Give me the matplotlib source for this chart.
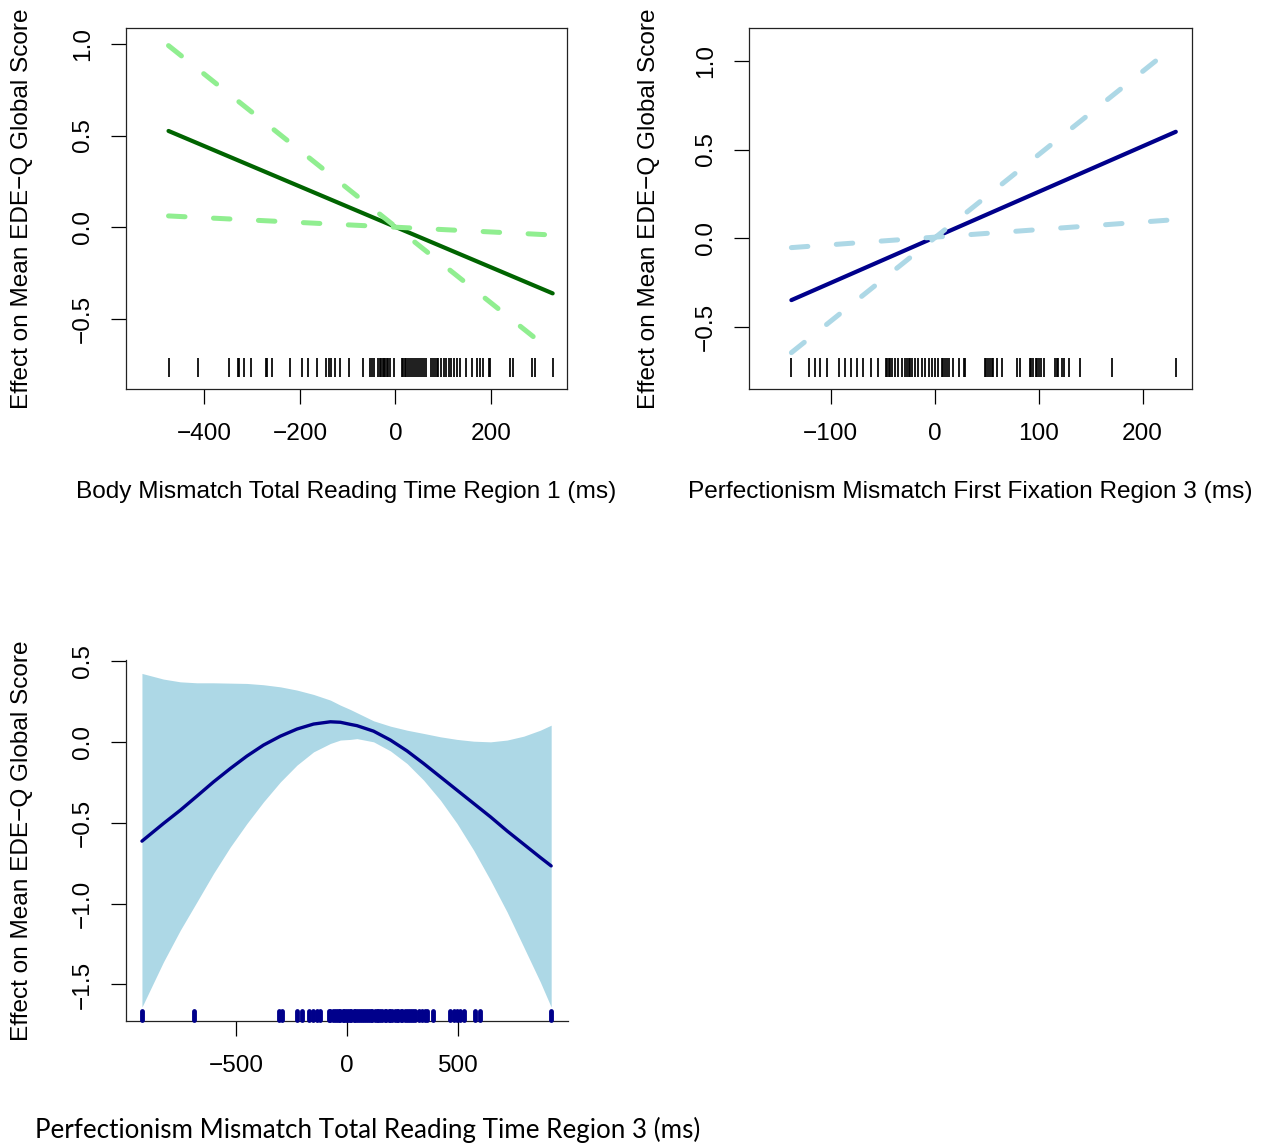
import numpy as np
import matplotlib
matplotlib.use("Agg")
import matplotlib.pyplot as plt

# ---------------- data ----------------
# Panel 1: Body Mismatch Total Reading Time Region 1
p1_x = [-475, 329]
p1_fit = [0.525, -0.360]
p1_ci_a = [0.990, -0.680]
p1_ci_b = [0.062, -0.042]
p1_rug = [-474, -414, -348, -330, -327, -316, -303, -271, -268, -259, -220, -195,
          -184, -165, -145, -140, -135, -126, -116, -98, -67, -53, -49, -45, -36,
          -33, -30, -27, -24, -21, -18, -15, -12, -3, 13, 16, 19, 22, 27, 31, 35,
          39, 43, 47, 51, 55, 59, 64, 74, 78, 82, 87, 90, 95, 101, 106, 111, 116,
          122, 129, 136, 147, 160, 170, 177, 183, 195, 198, 240, 247, 286, 293, 329]
p1_xticks = [-400, -200, 0, 200]
p1_yticks = [-0.5, 0.0, 0.5, 1.0]

# Panel 2: Perfectionism Mismatch First Fixation Region 3
p2_x = [-138, 232]
p2_fit = [-0.349, 0.600]
p2_ci_a = [-0.645, 1.090]
p2_ci_b = [-0.053, 0.105]
p2_rug = [-138, -121, -115, -110, -104, -92, -86, -81, -75, -69, -61, -55, -47,
          -46, -44, -43, -41, -38, -35, -32, -29, -27, -25, -24, -22, -19, -16,
          -12, -9, -6, -3, 0, 3, 7, 8, 10, 12, 14, 18, 23, 28, 29, 48, 49, 51, 53,
          55, 56, 60, 65, 79, 82, 92, 93, 95, 97, 98, 100, 102, 105, 116, 118,
          119, 122, 124, 129, 140, 171, 232]
p2_xticks = [-100, 0, 100, 200]
p2_yticks = [-0.5, 0.0, 0.5, 1.0]

# Panel 3: Perfectionism Mismatch Total Reading Time Region 3 (smooth term)
p3_x = [-926, -829, -753, -678, -603, -527, -452, -377, -301, -226, -151, -75, -30,
        15, 45, 120, 196, 271, 346, 422, 497, 572, 648, 723, 798, 873, 922]
p3_fit = [-0.614, -0.505, -0.423, -0.336, -0.248, -0.165, -0.088, -0.020, 0.035,
          0.079, 0.110, 0.124, 0.121, 0.108, 0.100, 0.066, 0.011, -0.056, -0.134,
          -0.217, -0.299, -0.381, -0.464, -0.551, -0.633, -0.715, -0.767]
p3_upper = [0.423, 0.388, 0.371, 0.365, 0.365, 0.363, 0.361, 0.353, 0.340, 0.320,
            0.293, 0.258, 0.227, 0.200, 0.180, 0.130, 0.097, 0.072, 0.052, 0.031,
            0.015, 0.004, 0.000, 0.011, 0.035, 0.072, 0.103]
p3_lower = [-1.640, -1.361, -1.165, -0.990, -0.814, -0.650, -0.505, -0.371, -0.248,
            -0.144, -0.062, -0.010, 0.011, 0.015, 0.020, 0.000, -0.056, -0.134,
            -0.237, -0.361, -0.505, -0.670, -0.856, -1.052, -1.268, -1.485, -1.640]
p3_rug = [-928, -690, -306, -292, -225, -205, -170, -155, -137, -121,
          -83, -75, -65, -55, -45, -38, -30, -20, -12, -5, 5, 12, 20, 30, 38, 45,
          55, 63, 72, 80, 90, 98, 108, 115, 125, 135, 142, 150, 160, 170, 178, 188,
          196, 205, 215, 225, 232, 242, 250, 260, 270, 280, 290, 298, 308,
          325, 337, 352, 360, 390, 464, 482, 497, 512, 527, 576, 601, 923]
p3_xticks = [-500, 0, 500]
p3_yticks = [-1.5, -1.0, -0.5, 0.0, 0.5]

ylab = "Effect on Mean EDE\u2212Q Global Score"
xlab1 = "Body Mismatch Total Reading Time Region 1 (ms)"
xlab2 = "Perfectionism Mismatch First Fixation Region 3 (ms)"
xlab3 = "Perfectionism Mismatch Total Reading Time Region 3 (ms)"

# ---------------- style ----------------
W, H = 1265, 1146
plt.rcParams['font.family'] = ['Liberation Sans', 'DejaVu Sans']
FS = 17.6
fig = plt.figure(figsize=(W / 100, H / 100), dpi=100)


def box(l, t, r, b):
    return [l / W, 1 - b / H, (r - l) / W, (b - t) / H]


def style(ax, xt, yt):
    ax.set_xticks(xt)
    ax.set_xticklabels([str(v).replace("-", "\u2212") for v in xt], fontsize=FS)
    ax.set_yticks(yt)
    ax.set_yticklabels([f"{v:.1f}".replace("-", "\u2212") for v in yt], fontsize=FS,
                       rotation=90, va='center')
    ax.tick_params(direction='out', length=11, width=0.9, colors='black')
    ax.tick_params(axis='x', pad=13.5)
    ax.tick_params(axis='y', pad=12)
    for s in ax.spines.values():
        s.set_linewidth(0.9)
        s.set_color('#222222')


DASH = (0, (3.3, 5.7))

# Panel 1
ax1 = fig.add_axes(box(126, 28, 567, 389))
ax1.plot(p1_x, p1_fit, color='#006400', lw=3.0, solid_capstyle='round')
for ci in (p1_ci_a, p1_ci_b):
    ax1.plot(p1_x, ci, color='#90EE90', lw=3.6, linestyle=DASH, dash_capstyle='round')
ax1.vlines(p1_rug, -0.816, -0.712, color='black', lw=1.25)
ax1.set_xlim(-564, 359)
ax1.set_ylim(-0.881, 1.086)
style(ax1, p1_xticks, p1_yticks)

# Panel 2
ax2 = fig.add_axes(box(749, 28, 1192, 389))
ax2.plot(p2_x, p2_fit, color='#00008B', lw=3.0, solid_capstyle='round')
for ci in (p2_ci_a, p2_ci_b):
    ax2.plot(p2_x, ci, color='#ADD8E6', lw=3.6, linestyle=DASH, dash_capstyle='round')
ax2.vlines(p2_rug, -0.782, -0.675, color='black', lw=1.25)
ax2.set_xlim(-178.8, 247.6)
ax2.set_ylim(-0.85, 1.185)
style(ax2, p2_xticks, p2_yticks)

# Panel 3
ax3 = fig.add_axes(box(126, 660, 568, 1021))
ax3.fill_between(p3_x, p3_lower, p3_upper, color='#ADD8E6', lw=0)
ax3.plot(p3_x, p3_fit, color='#00008B', lw=2.4, solid_capstyle='round',
         solid_joinstyle='round')
ax3.set_xlim(-998, 998)
ax3.set_ylim(-1.726, 0.506)
ax3.vlines(p3_rug, -1.722, -1.666, color='#00008B', lw=3.5, capstyle='round',
           clip_on=False, zorder=5)
style(ax3, p3_xticks, p3_yticks)
ax3.spines['top'].set_visible(False)
ax3.spines['right'].set_visible(False)


def ftext(x, y, s, **kw):
    fig.text(x / W, 1 - y / H, s, **kw)


ftext(22, 208.5, ylab, rotation=90, ha='center', va='center', fontsize=FS)
ftext(649, 208.5, ylab, rotation=90, ha='center', va='center', fontsize=FS)
ftext(22, 840.5, ylab, rotation=90, ha='center', va='center', fontsize=FS)
ftext(346.5, 492, xlab1, ha='center', va='center', fontsize=FS)
ftext(970.5, 492, xlab2, ha='center', va='center', fontsize=FS)
ftext(35, 1130, xlab3, ha='left', va='center', fontsize=18.7,
      family=['Lato', 'DejaVu Sans'])

fig.savefig("out.png", dpi=100)
